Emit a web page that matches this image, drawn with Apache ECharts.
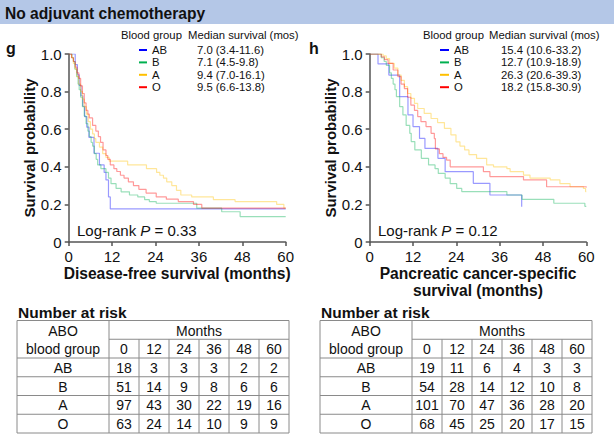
<!DOCTYPE html>
<html>
<head>
<meta charset="utf-8">
<script src="https://cdn.jsdelivr.net/npm/echarts@6.0.0/dist/echarts.min.js"></script>
<style>html,body{margin:0;padding:0;background:#fff;}#c{width:614px;height:434px;}</style>
</head>
<body>
<div id="c"></div>
<script>
// ---------- data ----------
const groups = ['AB', 'B', 'A', 'O'];
const groupColors = ['#0000ff', '#00b050', '#ffc000', '#ff0000'];
const riskMonths = ['0', '12', '24', '36', '48', '60'];

const dfsMedian = ['7.0 (3.4-11.6)', '7.1 (4.5-9.8)', '9.4 (7.0-16.1)', '9.5 (6.6-13.8)'];
const pcsMedian = ['15.4 (10.6-33.2)', '12.7 (10.9-18.9)', '26.3 (20.6-39.3)', '18.2 (15.8-30.9)'];

const dfsRiskAB = [18, 3, 3, 3, 2, 2];
const dfsRiskB = [51, 14, 9, 8, 6, 6];
const dfsRiskA = [97, 43, 30, 22, 19, 16];
const dfsRiskO = [63, 24, 14, 10, 9, 9];
const pcsRiskAB = [19, 11, 6, 4, 3, 3];
const pcsRiskB = [54, 28, 14, 12, 10, 8];
const pcsRiskA = [101, 70, 47, 36, 28, 20];
const pcsRiskO = [68, 45, 25, 20, 17, 15];

// Kaplan-Meier steps: [month, survival after event]
const dfsAB = [[0,1],[1.8,0.944],[2.4,0.889],[2.9,0.833],[3.4,0.778],[3.9,0.722],[4.4,0.667],[5.0,0.611],[5.6,0.556],[7.0,0.472],[8.5,0.41],[9.8,0.37],[10.3,0.33],[11.0,0.24],[11.5,0.176],[60,0.176]];
const dfsB = [[0,1],[0.9,0.98],[1.3,0.96],[1.7,0.92],[2.2,0.88],[2.6,0.84],[2.9,0.81],[3.3,0.77],[3.8,0.72],[4.3,0.67],[4.8,0.63],[5.3,0.59],[5.7,0.56],[6.2,0.53],[6.6,0.51],[7.1,0.47],[7.6,0.44],[8.0,0.41],[8.9,0.39],[10.3,0.37],[11.0,0.34],[11.7,0.31],[13.1,0.285],[14.5,0.267],[16.8,0.25],[19.1,0.24],[21.0,0.225],[22.3,0.215],[24.2,0.206],[35.4,0.18],[42.3,0.161],[47.4,0.135],[60,0.135]];
const dfsA = [[0,1],[0.8,0.98],[1.3,0.95],[1.8,0.92],[2.3,0.88],[2.8,0.84],[3.3,0.8],[3.8,0.76],[4.3,0.72],[4.9,0.68],[5.4,0.64],[6.0,0.6],[6.6,0.575],[7.1,0.55],[7.5,0.53],[8.5,0.505],[9.4,0.47],[10.3,0.45],[11.2,0.43],[16.3,0.41],[21.5,0.39],[24.3,0.37],[25.2,0.355],[26.2,0.34],[27.1,0.32],[28.5,0.3],[29.8,0.275],[31.0,0.25],[34.0,0.24],[40.0,0.225],[46.0,0.215],[57.5,0.2],[59.5,0.18],[60,0.18]];
const dfsO = [[0,1],[0.8,0.98],[1.3,0.96],[1.8,0.93],[2.3,0.9],[2.8,0.87],[3.3,0.83],[3.8,0.79],[4.3,0.74],[4.8,0.7],[5.3,0.68],[5.7,0.66],[6.6,0.62],[7.5,0.59],[8.2,0.56],[8.8,0.53],[9.5,0.49],[10.3,0.46],[10.8,0.44],[11.5,0.41],[12.5,0.39],[13.3,0.375],[14.3,0.355],[15.3,0.34],[16.5,0.32],[17.9,0.3],[19.4,0.28],[21.4,0.26],[24.2,0.24],[27.0,0.228],[30.3,0.215],[34.5,0.2],[36.8,0.18],[60,0.18]];

const pcsAB = [[0,1],[2.3,0.947],[5.3,0.888],[8.3,0.773],[10.6,0.676],[12.0,0.614],[13.8,0.551],[15.3,0.498],[18.9,0.445],[20.9,0.374],[28.7,0.312],[33.3,0.25],[42.1,0.188]];
const pcsB = [[0,1],[3.2,0.98],[4.0,0.96],[4.6,0.94],[5.5,0.9],[6.0,0.87],[6.5,0.84],[7.0,0.81],[7.4,0.773],[8.3,0.72],[9.2,0.676],[10.1,0.62],[11.1,0.578],[11.5,0.534],[12.5,0.49],[14.3,0.445],[16.3,0.41],[18.1,0.39],[19.0,0.365],[20.9,0.34],[22.3,0.31],[24.1,0.285],[25.5,0.268],[38.0,0.25],[42.2,0.227],[51.0,0.206],[59.6,0.19],[60,0.19]];
const pcsA = [[0,1],[3.7,0.99],[4.6,0.975],[5.5,0.95],[6.8,0.925],[7.8,0.888],[8.7,0.86],[9.6,0.826],[10.5,0.79],[11.4,0.764],[12.4,0.737],[13.3,0.71],[15.1,0.684],[17.0,0.657],[18.8,0.635],[20.7,0.604],[22.5,0.57],[23.9,0.533],[25.0,0.51],[26.3,0.49],[27.5,0.465],[29.6,0.445],[32.4,0.41],[34.3,0.4],[38.0,0.39],[38.9,0.374],[42.6,0.356],[44.4,0.34],[50.0,0.33],[52.7,0.31],[55.5,0.294],[59.2,0.285],[59.8,0.268],[60,0.268]];
const pcsO = [[0,1],[3.2,0.985],[4.1,0.97],[5.1,0.95],[6.5,0.915],[7.8,0.88],[8.7,0.84],[9.6,0.816],[10.5,0.77],[11.4,0.728],[12.4,0.70],[13.3,0.667],[14.2,0.64],[15.6,0.614],[17.0,0.578],[17.9,0.55],[18.2,0.495],[19.3,0.47],[20.3,0.45],[21.3,0.436],[22.3,0.4],[31.5,0.374],[33.3,0.348],[42.6,0.33],[49.0,0.294],[60,0.29]];

// ---------- chart ----------
const FONT = "'Liberation Sans', Arial, Helvetica, sans-serif";
const TXT = '#111';
const LEG = 11.3;
const chart = echarts.init(document.getElementById('c'), null, {renderer: 'svg'});

function axisPair(idx, xName, xGap) {
  const axisLine = {show: true, lineStyle: {color: '#555', width: 1.5}};
  const axisTick = {show: true, length: 4, lineStyle: {color: '#555', width: 1.5}};
  return {
    x: {
      type: 'value', gridIndex: idx, min: 0, max: 60, interval: 12,
      axisLine, axisTick, splitLine: {show: false},
      axisLabel: {fontSize: 15, color: TXT, fontFamily: FONT, margin: 7},
      name: xName, nameLocation: 'middle', nameGap: xGap, nameMoveOverlap: false,
      nameTextStyle: {fontSize: 15.6, fontWeight: 'bold', color: TXT, fontFamily: FONT, lineHeight: 17}
    },
    y: {
      type: 'value', gridIndex: idx, min: 0, max: 1, interval: 0.2,
      axisLine, axisTick, splitLine: {show: false},
      axisLabel: {fontSize: 15, color: TXT, fontFamily: FONT, margin: 7,
        formatter: v => v === 0 ? '0' : v.toFixed(1)},
      name: 'Survival probability', nameLocation: 'middle', nameGap: 32, nameMoveOverlap: false,
      nameTextStyle: {fontSize: 15, fontWeight: 'bold', color: TXT, fontFamily: FONT}
    }
  };
}
const ax0 = axisPair(0, 'Disease-free survival (months)', 23);
const ax1 = axisPair(1, 'Pancreatic cancer-specific\nsurvival (months)', 23);

const dfsSets = [dfsAB, dfsB, dfsA, dfsO];
const pcsSets = [pcsAB, pcsB, pcsA, pcsO];
const series = [];
[dfsSets, pcsSets].forEach((sets, gi) => {
  sets.forEach((d, i) => {
    series.push({
      type: 'line', name: groups[i], xAxisIndex: gi, yAxisIndex: gi,
      data: d, step: 'end', symbol: 'none', showSymbol: false,
      color: groupColors[i],
      itemStyle: {color: groupColors[i]},
      lineStyle: {color: groupColors[i], width: 1.2, opacity: 0.4},
      emphasis: {disabled: true}, silent: true
    });
  });
});

function legendFor(left, medians, nameW, iconW) {
  return {
    left: left, top: 43.8, orient: 'vertical', padding: 0, itemGap: 0,
    itemWidth: iconW, itemHeight: 2, icon: 'rect', selectedMode: false,
    itemStyle: {opacity: 1},
    data: groups,
    formatter: name => '{n|' + name + '}{m|' + medians[groups.indexOf(name)] + '}',
    textStyle: {
      fontSize: LEG, color: TXT, fontFamily: FONT, lineHeight: 12.4,
      rich: {
        n: {width: nameW, fontSize: LEG, lineHeight: 12.4, fontFamily: FONT, color: TXT},
        m: {fontSize: LEG, lineHeight: 12.4, fontFamily: FONT, color: TXT}
      }
    }
  };
}

function txt(x, y, text, opts) {
  return {type: 'text', x: x, y: y, silent: true,
    style: Object.assign({text: text, fontFamily: FONT, fontSize: LEG, fill: TXT,
      verticalAlign: 'middle', align: 'left'}, opts || {})};
}

function riskTable(x0, y0, rows) {
  const els = [];
  const c1 = 92, cw = 30, rh = 18.75, n = riskMonths.length;
  const W = c1 + cw * n, H = rh * (rows.length + 2);
  const ls = {stroke: '#8a8a8a', lineWidth: 1};
  const ln = (x1, y1, x2, y2) => ({type: 'line', silent: true,
    shape: {x1: x1, y1: y1, x2: x2, y2: y2}, style: ls});
  els.push({type: 'rect', silent: true, shape: {x: x0, y: y0, width: W, height: H},
    style: {fill: 'none', stroke: '#8a8a8a', lineWidth: 1}});
  els.push(ln(x0 + c1, y0 + rh, x0 + W, y0 + rh));
  for (let r = 2; r < rows.length + 2; r++) els.push(ln(x0, y0 + rh * r, x0 + W, y0 + rh * r));
  els.push(ln(x0 + c1, y0, x0 + c1, y0 + H));
  for (let c = 1; c < n; c++) els.push(ln(x0 + c1 + cw * c, y0 + rh, x0 + c1 + cw * c, y0 + H));
  const T = {fontSize: 14, align: 'center'};
  els.push(txt(x0 + c1 / 2, y0 + rh * 0.5 + 1, 'ABO', T));
  els.push(txt(x0 + c1 / 2, y0 + rh * 1.5, 'blood group', T));
  els.push(txt(x0 + c1 + cw * n / 2, y0 + rh * 0.5 + 1, 'Months', T));
  riskMonths.forEach((m, c) => els.push(txt(x0 + c1 + cw * (c + 0.5), y0 + rh * 1.5 + 0.5, m, T)));
  rows.forEach((row, r) => {
    const yy = y0 + rh * (r + 2.5) + 0.5;
    els.push(txt(x0 + c1 / 2, yy, groups[r], T));
    row.forEach((v, c) => els.push(txt(x0 + c1 + cw * (c + 0.5), yy, String(v), T)));
  });
  return els;
}

const logRich = {a: {fontSize: 15, fontFamily: FONT, fill: TXT}, i: {fontSize: 15, fontStyle: 'italic', fontFamily: FONT, fill: TXT}};
const graphic = [
  {type: 'rect', silent: true, shape: {x: 0, y: 0, width: 614, height: 24}, style: {fill: '#b4c7e7'}},
  txt(5, 13, 'No adjuvant chemotherapy', {fontSize: 15.6, fontWeight: 'bold'}),
  txt(6, 40, 'g', {fontSize: 16, fontWeight: 'bold', verticalAlign: 'alphabetic'}),
  txt(309, 40, 'h', {fontSize: 16, fontWeight: 'bold', verticalAlign: 'alphabetic'}),
  txt(121, 35, 'Blood group'),
  txt(188, 35, 'Median survival (mos)'),
  txt(423, 35, 'Blood group'),
  txt(489, 35, 'Median survival (mos)'),
  txt(77, 230, '{a|Log-rank }{i|P}{a| = 0.33}', {rich: logRich}),
  txt(378, 230, '{a|Log-rank }{i|P}{a| = 0.12}', {rich: logRich}),
  txt(18, 312.5, 'Number at risk', {fontSize: 15.5, fontWeight: 'bold'}),
  txt(321, 312.5, 'Number at risk', {fontSize: 15.5, fontWeight: 'bold'})
].concat(
  riskTable(17, 320.5, [dfsRiskAB, dfsRiskB, dfsRiskA, dfsRiskO]),
  riskTable(320, 320.5, [pcsRiskAB, pcsRiskB, pcsRiskA, pcsRiskO])
);

chart.setOption({
  animation: false,
  backgroundColor: '#fff',
  textStyle: {fontFamily: FONT},
  grid: [
    {left: 68.7, top: 54, width: 217, height: 188},
    {left: 369.7, top: 54, width: 216.6, height: 188}
  ],
  xAxis: [ax0.x, ax1.x],
  yAxis: [ax0.y, ax1.y],
  legend: [legendFor(139, dfsMedian, 45, 8), legendFor(440, pcsMedian, 47, 9)],
  series: series,
  graphic: graphic
});
</script>
</body>
</html>
